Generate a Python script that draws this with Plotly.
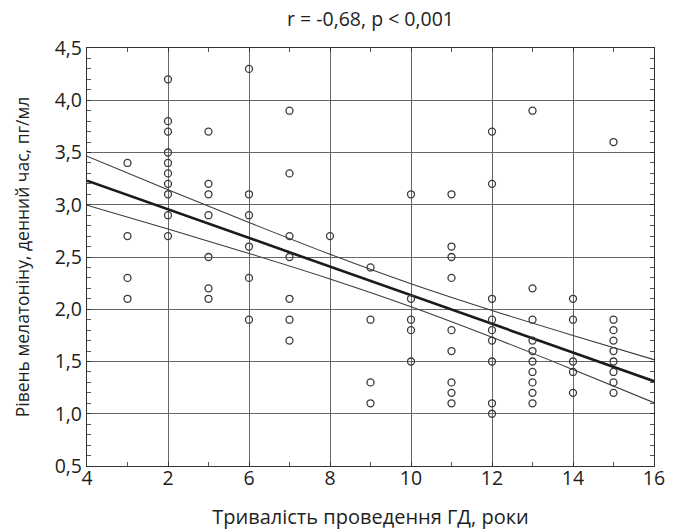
import plotly.graph_objects as go

# ---- data ----
col_x = [3, 4, 5, 6, 7, 8, 9, 10, 11, 12, 13, 14, 15]
col_y = [
    [3.4, 2.7, 2.3, 2.1],
    [4.2, 3.8, 3.7, 3.5, 3.4, 3.3, 3.2, 3.1, 2.9, 2.7],
    [3.7, 3.2, 3.1, 2.9, 2.5, 2.2, 2.1],
    [4.3, 3.1, 2.9, 2.6, 2.3, 1.9],
    [3.9, 3.3, 2.7, 2.5, 2.1, 1.9, 1.7],
    [2.7],
    [2.4, 1.9, 1.3, 1.1],
    [3.1, 2.1, 1.9, 1.8, 1.5],
    [3.1, 2.6, 2.5, 2.3, 1.8, 1.6, 1.3, 1.2, 1.1],
    [3.7, 3.2, 2.1, 1.9, 1.8, 1.7, 1.5, 1.1, 1.0],
    [3.9, 2.2, 1.9, 1.7, 1.6, 1.5, 1.4, 1.3, 1.2, 1.1],
    [2.1, 1.9, 1.5, 1.4, 1.2],
    [3.6, 1.9, 1.8, 1.7, 1.6, 1.5, 1.4, 1.3, 1.2],
]

line_x = [2, 4, 6, 8, 10, 12, 14, 16]
fit_y = [3.23, 2.956, 2.682, 2.408, 2.134, 1.86, 1.586, 1.312]
upper_y = [3.465, 3.144, 2.83, 2.526, 2.244, 1.988, 1.749, 1.518]
lower_y = [2.995, 2.768, 2.534, 2.29, 2.024, 1.732, 1.423, 1.106]

x_tickvals = [2, 4, 6, 8, 10, 12, 14, 16]
x_ticktext = ["4", "2", "6", "8", "10", "12", "14", "16"]
y_tickvals = [0.5, 1.0, 1.5, 2.0, 2.5, 3.0, 3.5, 4.0, 4.5]
y_ticktext = ["0,5", "1,0", "1,5", "2,0", "2,5", "3,0", "3,5", "4,0", "4,5"]

title_text = "r = -0,68, p < 0,001"
x_title = "Тривалість проведення ГД, роки"
y_title = "Рівень мелатоніну, денний час, пг/мл"

# ---- build ----
px, py = [], []
for xv, ys in zip(col_x, col_y):
    for yv in ys:
        px.append(xv)
        py.append(yv)

FONT = "Open Sans"
fig = go.Figure()

for band in (upper_y, lower_y):
    fig.add_trace(go.Scatter(x=line_x, y=band, mode="lines",
                             line=dict(color="#3a3a3a", width=1.1, shape="spline"),
                             hoverinfo="skip", showlegend=False))
fig.add_trace(go.Scatter(x=line_x, y=fit_y, mode="lines",
                         line=dict(color="#1a1a1a", width=2.6),
                         hoverinfo="skip", showlegend=False))
fig.add_trace(go.Scatter(x=px, y=py, mode="markers",
                         marker=dict(symbol="circle-open", size=7,
                                     color="#3a3a3a", line=dict(width=1.3)),
                         showlegend=False))

fig.update_layout(
    width=675, height=532,
    margin=dict(l=87, r=21, t=48, b=66),
    paper_bgcolor="white", plot_bgcolor="white",
    font=dict(family=FONT, size=17, color="#1e1e1e"),
    title=dict(text=title_text, x=(87 + 654) / 2 / 675, xanchor="center",
               y=1 - 19 / 532, yanchor="middle",
               font=dict(family=FONT, size=19.5, color="#1e1e1e")),
)
fig.update_xaxes(
    range=[2, 16], tickvals=x_tickvals, ticktext=x_ticktext,
    showgrid=True, gridcolor="#666666", gridwidth=1,
    showline=True, linecolor="#333333", linewidth=1.2, mirror="ticks",
    ticks="inside", ticklen=4, tickcolor="#333333",
    minor=dict(dtick=1, tick0=2, ticks="inside", ticklen=4, tickcolor="#555555", showgrid=False),
    zeroline=False, tickfont=dict(size=19.5), ticklabelstandoff=-6,
    automargin=False,
    title=dict(text=x_title, font=dict(size=20), standoff=20),
)
fig.update_yaxes(
    range=[0.5, 4.5], tickvals=y_tickvals, ticktext=y_ticktext,
    showgrid=True, gridcolor="#666666", gridwidth=1,
    showline=True, linecolor="#333333", linewidth=1.2, mirror="ticks",
    ticks="inside", ticklen=4, tickcolor="#333333",
    minor=dict(dtick=0.1, tick0=0.5, ticks="inside", ticklen=4, tickcolor="#555555", showgrid=False),
    zeroline=False, tickfont=dict(size=19.5),
    automargin=False,
    title=dict(text=y_title, font=dict(size=17.5), standoff=20),
)

fig.write_html("out.html")
